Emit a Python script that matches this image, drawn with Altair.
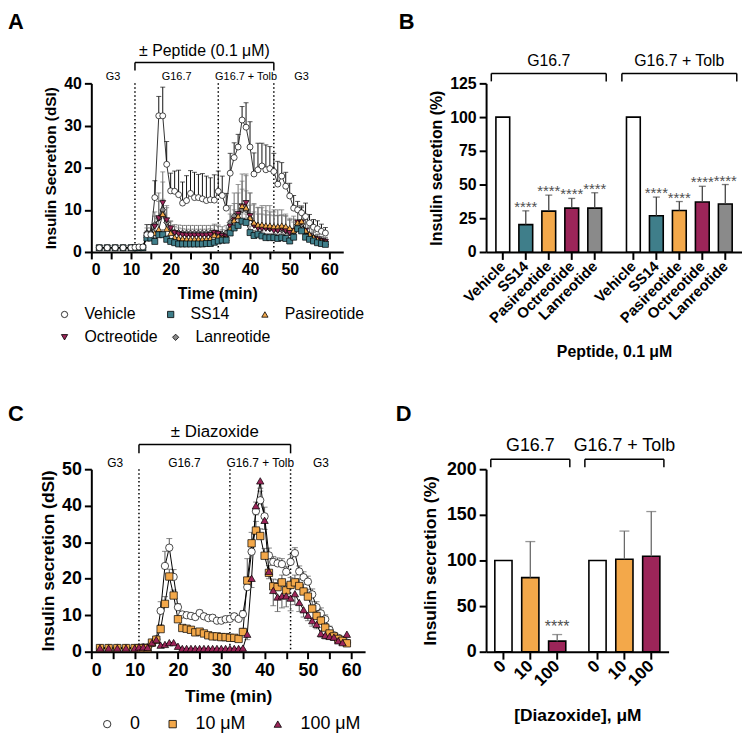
import altair as alt
import pandas as pd

FONT = "Liberation Sans"
WHITE, TEAL, ORANGE, MAGENTA, GREY = "#ffffff", "#3f7e8a", "#f3a84a", "#9c2559", "#8a8a8a"

# ---------------- shared time grid and protocol ----------------
times = [2, 4, 6, 8, 10, 11, 12, 13, 14, 15, 16, 17, 18, 19, 20, 21, 22, 23, 24, 25, 26,
         27, 28, 29, 30, 31, 32, 33, 34, 35, 36, 37, 38, 39, 40, 41, 42, 43, 44, 45, 46,
         47, 48, 49, 50, 51, 52, 53, 54, 55, 56, 57, 58, 59]
x_ticks = [0, 5, 10, 15, 20, 25, 30, 35, 40, 45, 50, 55, 60]
phase_names = ["G3", "G16.7", "G16.7 + Tolb", "G3"]
phase_start = [0, 11, 32, 46]
phase_end = [11, 32, 46, 60]
boundaries = [11, 32, 46]
treatment = [11, 46]

# ---------------- Panel A : peptides time course ----------------
a_series = ["Vehicle", "SS14", "Pasireotide", "Octreotide", "Lanreotide"]
a_vehicle = [1.0, 1.0, 1.0, 1.0, 1.0, 1.1, 1.2, 1.2,
             4.1, 4.1, 12.9, 32.3, 32.3, 20.8, 14.5, 14.4, 13.6, 11.6, 12.2, 13.9, 12.9, 12.9, 12.6, 12.2, 12.4, 12.3, 14.4, 13.4, 10.4,
             18.7, 22.4, 24.9, 31.3, 29.6, 24.9, 18.5, 19.5, 20.4, 19.5, 19.8, 19.1, 16.1, 18.0, 15.6, 13.3, 10.4, 10.0, 9.3, 8.4, 6.9, 5.9, 5.5, 4.9, 4.5]
a_vehicle_sd = [0.3, 0.3, 0.3, 0.3, 0.3, 0.3, 0.3, 0.3,
                2.4, 2.4, 4.0, 4.6, 6.8, 5.4, 4.2, 4.8, 5.8, 5.0, 5.9, 5.4, 6.0, 5.5, 6.0, 5.8, 5.2, 6.0, 4.8, 4.6, 3.5,
                4.7, 3.5, 3.0, 3.2, 5.8, 6.0, 5.0, 6.3, 5.4, 5.9, 5.2, 4.3, 5.4, 3.2, 3.3, 3.0, 3.0, 2.0, 1.4, 3.2, 2.0, 1.8, 1.9, 1.7, 1.3]
a_ss14 = [1.0, 1.0, 1.0, 1.0, 1.0, 1.0, 1.0, 1.0,
          3.3, 3.3, 2.5, 4.1, 4.1, 3.0, 2.5, 2.2, 1.9, 1.9, 1.9, 1.9, 1.9, 1.9, 1.9, 2.0, 2.0, 2.3, 2.6, 2.8, 2.8,
          4.5, 5.7, 6.3, 7.3, 7.0, 4.6, 3.9, 4.2, 3.8, 3.4, 3.4, 3.4, 3.2, 3.4, 3.2, 2.6, 3.5, 5.5, 5.0, 3.5, 3.0, 2.6, 2.2, 2.0, 1.8]
a_ss14_sd = [0.2, 0.2, 0.2, 0.2, 0.2, 0.2, 0.2, 0.2,
             0.6, 0.6, 0.8, 1.0, 1.2, 0.8, 0.6, 0.5, 0.5, 0.5, 0.5, 0.5, 0.5, 0.5, 0.5, 0.5, 0.5, 0.6, 0.7, 0.8, 0.8,
             1.2, 1.5, 1.8, 2.0, 2.0, 1.5, 1.2, 1.2, 1.2, 1.0, 1.0, 1.0, 1.0, 1.0, 1.0, 0.8, 1.0, 1.5, 1.3, 1.0, 0.8, 0.7, 0.6, 0.5, 0.5]
a_pasi = [1.0, 1.0, 1.0, 1.0, 1.0, 1.0, 1.0, 1.0,
          4.0, 4.0, 4.5, 5.4, 9.0, 5.5, 4.5, 3.5, 3.3, 3.2, 3.1, 3.1, 3.1, 3.1, 3.1, 3.1, 3.2, 4.0, 3.7, 3.4, 3.3,
          5.5, 7.5, 8.5, 10.9, 10.5, 8.1, 7.0, 6.5, 6.5, 6.3, 6.3, 6.1, 6.1, 6.3, 6.1, 5.7, 5.1, 7.0, 7.3, 5.1, 4.2, 3.5, 3.0, 2.6, 2.3]
a_pasi_sd = [0.2, 0.2, 0.2, 0.2, 0.2, 0.2, 0.2, 0.2,
             0.8, 0.8, 1.5, 2.5, 3.5, 2.0, 1.2, 1.0, 1.0, 1.0, 1.0, 1.0, 1.0, 1.0, 1.0, 1.0, 1.0, 1.2, 1.2, 1.0, 1.0,
             2.0, 2.5, 3.0, 4.0, 4.0, 3.0, 2.5, 2.5, 2.5, 2.5, 2.5, 2.5, 2.5, 2.5, 2.5, 2.0, 2.0, 2.5, 2.5, 2.0, 1.5, 1.2, 1.0, 0.8, 0.8]
a_octreo = [1.0, 1.0, 1.0, 1.0, 1.0, 1.0, 1.0, 1.0,
            4.0, 4.0, 6.0, 8.0, 11.6, 7.5, 5.6, 4.5, 4.2, 4.0, 3.9, 3.9, 3.9, 3.9, 3.9, 3.9, 4.0, 4.5, 4.3, 3.8, 3.6,
            6.0, 7.5, 9.0, 10.8, 11.6, 8.5, 6.2, 5.6, 5.5, 5.5, 5.5, 5.0, 5.0, 5.5, 5.0, 4.5, 5.0, 7.0, 7.0, 5.0, 3.8, 3.2, 3.0, 2.6, 2.4]
a_octreo_sd = [0.2, 0.2, 0.2, 0.2, 0.2, 0.2, 0.2, 0.2,
               1.0, 1.0, 2.5, 4.0, 5.0, 3.0, 1.8, 1.5, 1.5, 1.5, 1.5, 1.5, 1.5, 1.5, 1.5, 1.5, 1.5, 1.8, 1.8, 1.5, 1.5,
               3.0, 4.0, 5.0, 6.0, 6.5, 5.5, 5.0, 5.0, 5.5, 5.5, 5.5, 5.0, 5.0, 4.5, 4.0, 3.5, 3.5, 4.0, 4.0, 3.0, 2.0, 1.5, 1.2, 1.0, 1.0]
a_lanreo = [1.0, 1.0, 1.0, 1.0, 1.0, 1.0, 1.0, 1.0,
            4.5, 4.5, 6.5, 8.0, 10.0, 7.0, 5.2, 4.7, 4.6, 4.5, 4.5, 4.5, 4.5, 4.5, 4.5, 4.5, 4.5, 4.6, 4.4, 4.2, 4.5,
            7.0, 8.5, 9.0, 10.0, 10.0, 8.0, 6.5, 6.0, 6.0, 5.8, 5.5, 5.5, 5.2, 5.2, 5.0, 4.5, 4.8, 6.5, 6.5, 4.8, 4.0, 3.5, 3.0, 2.7, 2.5]
a_lanreo_sd = [0.2, 0.2, 0.2, 0.2, 0.2, 0.2, 0.2, 0.2,
               1.2, 1.2, 3.0, 6.0, 9.0, 4.0, 2.0, 1.8, 1.8, 1.8, 1.8, 1.8, 1.8, 1.8, 1.8, 1.8, 1.8, 2.0, 2.0, 1.8, 1.8,
               4.0, 5.5, 7.0, 8.5, 8.5, 6.0, 5.0, 4.5, 4.5, 4.0, 4.0, 4.0, 3.5, 3.5, 3.5, 3.0, 3.0, 4.0, 4.0, 3.0, 2.0, 1.5, 1.2, 1.0, 1.0]

# ---------------- Panel B : peptides, % secretion ----------------
b_groups = ["G16.7", "G16.7 + Tolb"]
b_peptides = ["Vehicle", "SS14", "Pasireotide", "Octreotide", "Lanreotide"]
b_g167 = [100, 20.3, 30.3, 32.5, 32.5]
b_g167_sd = [0, 10.2, 11.9, 7.2, 11.4]
b_g167_sig = ["", "****", "****", "****", "****"]
b_tolb = [100, 26.8, 30.8, 37.0, 35.6]
b_tolb_sd = [0, 13.9, 6.6, 11.7, 14.4]
b_tolb_sig = ["", "****", "****", "****", "****"]

# ---------------- Panel C : diazoxide time course ----------------
c_series = ["0", "10 μM", "100 μM"]
c_0 = [1.0, 1.0, 1.0, 1.0, 1.0, 1.1, 1.2, 1.2,
       2.3, 3.4, 11.2, 23.5, 28.5, 20.5, 12.2, 10.2, 10.0, 9.8, 9.5, 10.6, 9.7, 9.2, 9.3, 8.5, 8.5, 8.9, 9.0, 9.7, 9.0,
       10.3, 17.7, 27.4, 38.5, 41.5, 37.1, 26.4, 24.6, 24.2, 24.0, 21.9, 24.6, 27.0, 22.0, 20.4, 19.2, 15.7, 12.2, 10.5, 8.9, 6.0, 4.5, 3.8, 3.2, 2.5]
c_0_sd = [0.3, 0.3, 0.3, 0.3, 0.3, 0.3, 0.3, 0.3,
          0.5, 0.8, 2.5, 4.0, 2.5, 2.0, 1.0, 0.8, 0.8, 0.8, 0.8, 0.8, 0.8, 0.8, 0.8, 0.8, 0.8, 0.8, 0.8, 0.8, 0.8,
          1.0, 2.5, 3.0, 2.5, 2.5, 2.5, 2.0, 1.5, 1.5, 1.5, 1.5, 2.0, 1.5, 1.5, 1.5, 1.5, 1.5, 1.5, 1.5, 1.2, 1.0, 0.8, 0.6, 0.5, 0.5]
c_10 = [1.0, 1.0, 1.0, 1.0, 1.0, 1.0, 1.0, 1.0,
        2.5, 3.3, 6.2, 13.1, 20.6, 15.4, 8.9, 6.5, 6.3, 6.0, 5.3, 5.5, 5.0, 4.5, 4.2, 4.2, 4.0, 4.0, 3.8, 3.8, 3.5,
        5.4, 19.5, 29.7, 33.2, 31.7, 26.3, 21.6, 17.9, 17.7, 19.0, 16.8, 18.3, 19.0, 18.0, 16.5, 15.1, 11.8, 9.8, 8.5, 6.6, 5.0, 4.2, 3.5, 3.0, 2.3]
c_10_sd = [0.2, 0.2, 0.2, 0.2, 0.2, 0.2, 0.2, 0.2,
           0.4, 0.5, 1.2, 2.0, 2.0, 1.5, 0.8, 0.5, 0.5, 0.5, 0.5, 0.5, 0.5, 0.5, 0.5, 0.5, 0.5, 0.5, 0.5, 0.5, 0.5,
           1.0, 6.0, 3.0, 2.5, 2.0, 2.0, 2.0, 2.0, 2.0, 2.0, 2.0, 2.0, 2.0, 2.0, 2.0, 2.0, 2.0, 1.5, 1.2, 1.0, 0.8, 0.6, 0.5, 0.5, 0.5]
c_100 = [1.0, 1.0, 1.0, 1.0, 1.0, 1.3, 1.3, 1.2,
         2.5, 3.3, 1.8, 2.0, 2.5, 2.5, 1.5, 0.9, 0.9, 0.9, 0.9, 0.9, 0.9, 0.9, 0.9, 0.9, 0.9, 0.9, 0.9, 0.9, 0.9,
         1.0, 4.8, 20.1, 40.0, 46.8, 36.0, 22.0, 16.8, 15.0, 15.3, 15.3, 14.7, 15.9, 13.5, 11.5, 10.0, 8.5, 7.5, 5.0, 4.5, 4.2, 4.0, 3.0, 2.5, 4.8]
c_100_sd = [0.2, 0.2, 0.2, 0.2, 0.2, 0.2, 0.2, 0.2,
            0.5, 0.6, 0.5, 0.5, 0.6, 0.6, 0.4, 0.2, 0.2, 0.2, 0.2, 0.2, 0.2, 0.2, 0.2, 0.2, 0.2, 0.2, 0.2, 0.2, 0.2,
            0.3, 1.5, 2.5, 2.5, 2.0, 2.5, 2.0, 4.2, 4.0, 3.3, 3.0, 3.5, 3.0, 2.5, 2.0, 1.5, 1.5, 1.2, 1.0, 1.0, 0.8, 0.8, 0.6, 0.5, 0.5]
c_err_dir = {"0": 1, "10 μM": 1, "100 μM": -1}

# ---------------- Panel D : diazoxide, % secretion ----------------
d_groups = ["G16.7", "G16.7 + Tolb"]
d_doses = ["0", "10", "100"]
d_g167 = [100, 81.2, 11.6]
d_g167_sd = [0, 39.5, 7.2]
d_g167_sig = ["", "", "****"]
d_tolb = [100, 101.4, 104.7]
d_tolb_sd = [0, 30.8, 48.9]
d_tolb_sig = ["", "", ""]


# ================= helpers =================
def long_df(names, vals, sds, errdir=None):
    rows = []
    for name, v, s in zip(names, vals, sds):
        d = 1 if errdir is None else errdir[name]
        for t, vv, ss in zip(times, v, s):
            rows.append({"t": t, "series": name, "value": vv, "sd": ss, "err": vv + d * ss})
    return pd.DataFrame(rows)


def bar_df(groups, cats, cat_field, per_group):
    rows = []
    for g, (vals, sds, sigs) in zip(groups, per_group):
        for c, v, s, st in zip(cats, vals, sds, sigs):
            rows.append({"group": g, cat_field: c, "value": v, "sd": s, "err": v + s, "sig": st})
    return pd.DataFrame(rows)


def ax(**kw):
    base = dict(domainColor="black", domainWidth=2, tickColor="black", tickWidth=2, tickSize=7,
                labelColor="black", titleColor="black", labelFont=FONT, titleFont=FONT,
                labelFontWeight="bold", titleFontWeight="bold", grid=False, labelPadding=3)
    base.update(kw)
    return alt.Axis(**base)


def letter(ch, dx, dy):
    return alt.Chart(pd.DataFrame({"letter": [ch]})).mark_text(
        fontSize=22, fontWeight="bold", align="left", baseline="top", color="black", font=FONT
    ).encode(text="letter:N", x=alt.value(dx), y=alt.value(dy))


def mk_leg(x, y, cols, colpad, size, lab_off, sym):
    return alt.Legend(title=None, orient="none", legendX=x, legendY=y, direction="horizontal", columns=cols,
                      columnPadding=colpad, labelOffset=lab_off, labelFont=FONT, labelFontSize=size,
                      labelColor="black", symbolSize=sym, symbolStrokeColor="black", symbolStrokeWidth=0.8,
                      padding=0)


phases_df = pd.DataFrame({"name": phase_names, "start": phase_start, "end": phase_end})


def timecourse_decor(X, H, bracket_y, tick_len, bracket_label, label_size, phase_size, label_dy):
    dotted = alt.Chart(pd.DataFrame({"t": boundaries})).mark_rule(
        strokeDash=[1.5, 2.5], strokeWidth=1.5, color="black"
    ).encode(x=X("t"), y=alt.value(0), y2=alt.value(H))
    br_h = alt.Chart(pd.DataFrame({"start": [treatment[0]], "end": [treatment[1]]})).mark_rule(
        strokeWidth=1.5, color="black"
    ).encode(x=X("start"), x2="end:Q", y=alt.value(bracket_y))
    br_v = alt.Chart(pd.DataFrame({"t": treatment})).mark_rule(strokeWidth=1.5, color="black").encode(
        x=X("t"), y=alt.value(bracket_y), y2=alt.value(bracket_y + tick_len))
    br_t = alt.Chart(pd.DataFrame({"start": [treatment[0]], "end": [treatment[1]], "label": [bracket_label]})
                     ).transform_calculate(mid="(datum.start + datum.end) / 2").mark_text(
        fontSize=label_size, baseline="middle", color="black", font=FONT
    ).encode(x=X("mid"), y=alt.value(bracket_y + label_dy), text="label:N")
    ph = alt.Chart(phases_df).transform_calculate(mid="(datum.start + datum.end) / 2").mark_text(
        fontSize=phase_size, baseline="middle", color="black", font=FONT
    ).encode(x=X("mid"), y=alt.value(-6), text="name:N")
    return [dotted, br_h, br_v, br_t, ph]


def points_layer(df, names, X, Y, shapes, fills, leg, size):
    return alt.Chart(df).mark_point(filled=True, size=size, strokeWidth=0.7, opacity=1).encode(
        x=X(), y=Y(),
        shape=alt.Shape("series:N", scale=alt.Scale(domain=names, range=shapes), legend=leg),
        fill=alt.Fill("series:N", scale=alt.Scale(domain=names, range=fills), legend=leg),
        stroke=alt.Stroke("series:N", scale=alt.Scale(domain=names, range=["black"] * len(names)), legend=leg),
    )


# ================= Panel A =================
WA, HA = 254, 170
dfA = long_df(["Lanreotide", "Octreotide", "Pasireotide", "SS14", "Vehicle"],
              [a_lanreo, a_octreo, a_pasi, a_ss14, a_vehicle],
              [a_lanreo_sd, a_octreo_sd, a_pasi_sd, a_ss14_sd, a_vehicle_sd])
scale_xA = alt.Scale(domain=[0, 63.5], nice=False)
scale_yA = alt.Scale(domain=[0, 40], nice=False)
axis_xA = ax(values=x_ticks, labelExpr="datum.value % 10 == 0 ? datum.label : ''", labelFontSize=16,
             title="Time (min)", titleFontSize=16, titlePadding=8)
axis_yA = ax(values=[0, 10, 20, 30, 40], labelFontSize=16, title="Insulin Secretion (dSI)",
             titleFontSize=15.5, titlePadding=5)


def XA(f="t"):
    return alt.X(f"{f}:Q", scale=scale_xA, axis=axis_xA)


def YA(f="value"):
    return alt.Y(f"{f}:Q", scale=scale_yA, axis=axis_yA)


errcol = alt.condition(alt.datum.series == "Vehicle", alt.value("#111111"), alt.value("#707070"))
a_err = alt.Chart(dfA).mark_rule(strokeWidth=1).encode(x=XA(), y=YA(), y2="err:Q", color=errcol)
a_cap = alt.Chart(dfA).mark_tick(orient="horizontal", size=5, thickness=1).encode(x=XA(), y=YA("err"), color=errcol)
a_line = alt.Chart(dfA).mark_line(color="black", strokeWidth=0.8).encode(x=XA(), y=YA(), detail="series:N")

a_row1 = ["Vehicle", "SS14", "Pasireotide"]
a_row2 = ["Octreotide", "Lanreotide"]
shape_map = {"Vehicle": "circle", "SS14": "square", "Pasireotide": "triangle-up",
             "Octreotide": "triangle-down", "Lanreotide": "diamond"}
fill_map = {"Vehicle": WHITE, "SS14": TEAL, "Pasireotide": ORANGE, "Octreotide": MAGENTA, "Lanreotide": GREY}

a_pts_low = points_layer(dfA[dfA["series"].isin(a_row2)], a_row2, XA, YA,
                         [shape_map[n] for n in a_row2], [fill_map[n] for n in a_row2],
                         mk_leg(-35, 248, 2, 10, 16, 12, 40), 36)
a_pts_top = points_layer(dfA[dfA["series"].isin(a_row1)], a_row1, XA, YA,
                         [shape_map[n] for n in a_row1], [fill_map[n] for n in a_row1],
                         mk_leg(-35, 225, 3, 27, 16, 12, 40), 36)

panelA = alt.layer(
    *timecourse_decor(XA, HA, -21, 8, "± Peptide (0.1 μM)", 16, 11, -12),
    a_err, a_cap, a_line, a_pts_low, a_pts_top, letter("A", -84, -72)
).resolve_scale(shape="independent", fill="independent", stroke="independent").resolve_legend(
    shape="independent", fill="independent", stroke="independent").properties(width=WA, height=HA)


# ================= bar panels (B and D) =================
def bar_panel(df, cats, cat_field, colors, W, H, ydom, yvals, ytitle, xtitle, fs_tick, fs_title,
              title_pad_x, pin, pout, opin, opout, err_color, cap, star_size, star_dy, lab_size,
              grp_size, letter_ch, letter_dx, letter_dy, ytitle_pad):
    scale_x = alt.Scale(domain=b_groups, paddingInner=pin, paddingOuter=pout)
    axis_x = ax(labels=False, ticks=False, title=xtitle, titleFontSize=fs_title, titlePadding=title_pad_x)

    def X(bp=None):
        kw = dict(scale=scale_x, axis=axis_x)
        if bp is not None:
            kw["bandPosition"] = bp
        return alt.X("group:N", **kw)

    xo = alt.XOffset(f"{cat_field}:N", scale=alt.Scale(domain=cats, paddingInner=opin, paddingOuter=opout))
    scale_y = alt.Scale(domain=ydom, nice=False)
    axis_y = ax(values=yvals, labelFontSize=fs_tick, title=ytitle, titleFontSize=fs_title, titlePadding=ytitle_pad)

    def Y(f="value"):
        return alt.Y(f"{f}:Q", scale=scale_y, axis=axis_y)

    base = alt.Chart(df)
    bars = base.mark_bar(stroke="black", strokeWidth=1.6).encode(
        x=X(), xOffset=xo, y=Y(),
        fill=alt.Fill(f"{cat_field}:N", scale=alt.Scale(domain=cats, range=colors), legend=None))
    errd = base.transform_filter("datum.sd > 0")
    err = errd.mark_rule(color=err_color, strokeWidth=1.3).encode(x=X(), xOffset=xo, y=Y(), y2="err:Q")
    caps = errd.mark_tick(orient="horizontal", color=err_color, thickness=1.3, size=cap).encode(
        x=X(), xOffset=xo, y=Y("err"))
    stars = errd.mark_text(fontSize=star_size, color="#505050", baseline="alphabetic", dy=star_dy, font=FONT).encode(
        x=X(), xOffset=xo, y=Y("err"), text="sig:N")
    ticks = base.mark_rule(color="black", strokeWidth=2).encode(
        x=X(), xOffset=xo, y=alt.value(H), y2=alt.value(H + 8))
    labels = base.mark_text(angle=315, align="right", baseline="middle", fontSize=lab_size, fontWeight="bold",
                            color="black", font=FONT).encode(
        x=X(), xOffset=xo, y=alt.value(H + 12), text=f"{cat_field}:N")
    gdf = alt.Chart(pd.DataFrame({"group": b_groups}))
    br_h = gdf.mark_rule(color="black", strokeWidth=1.5).encode(
        x=X(0), x2=alt.X2("group:N", bandPosition=1), y=alt.value(-10))
    br_l = gdf.mark_rule(color="black", strokeWidth=1.5).encode(x=X(0), y=alt.value(-10), y2=alt.value(-2))
    br_r = gdf.mark_rule(color="black", strokeWidth=1.5).encode(x=X(1), y=alt.value(-10), y2=alt.value(-2))
    gl = gdf.mark_text(fontSize=grp_size, baseline="middle", color="black", font=FONT).encode(
        x=X(), y=alt.value(-23), text="group:N")
    return alt.layer(bars, err, caps, stars, ticks, labels, br_h, br_l, br_r, gl,
                     letter(letter_ch, letter_dx, letter_dy)).properties(width=W, height=H)


dfB = bar_df(b_groups, b_peptides, "peptide",
             [(b_g167, b_g167_sd, b_g167_sig), (b_tolb, b_tolb_sd, b_tolb_sig)])
panelB = bar_panel(dfB, b_peptides, "peptide", [WHITE, TEAL, ORANGE, MAGENTA, GREY], 258, 170,
                   [0, 125], [0, 25, 50, 75, 100, 125], "Insulin secretion (%)", "Peptide, 0.1 μM",
                   16, 16, 92, 0.12, 0.04, 0.4, 0.2, "#444444", 7, 15, 1, 15, 16, "B", -88, -72, 5)

dfD = bar_df(d_groups, d_doses, "dose",
             [(d_g167, d_g167_sd, d_g167_sig), (d_tolb, d_tolb_sd, d_tolb_sig)])
panelD = bar_panel(dfD, d_doses, "dose", [WHITE, ORANGE, MAGENTA], 184, 184,
                   [0, 200], [0, 50, 100, 150, 200], "Insulin secretion (%)", "[Diazoxide], μM",
                   18, 17.5, 55, 0.16, 0.05, 0.36, 0.15, "#6a6a6a", 10, 16, -3, 17, 18, "D", -91, -66, 7)

# ================= Panel C =================
WC, HC = 276, 184
dfC = long_df(c_series, [c_0, c_10, c_100], [c_0_sd, c_10_sd, c_100_sd], c_err_dir)
scale_xC = alt.Scale(domain=[0, 63.2], nice=False)
scale_yC = alt.Scale(domain=[0, 50], nice=False)
axis_xC = ax(values=x_ticks, labelExpr="datum.value % 10 == 0 ? datum.label : ''", labelFontSize=18,
             title="Time (min)", titleFontSize=17.5, titlePadding=8)
axis_yC = ax(values=[0, 10, 20, 30, 40, 50], labelFontSize=18, title="Insulin secretion (dSI)",
             titleFontSize=17.5, titlePadding=4)


def XC(f="t"):
    return alt.X(f"{f}:Q", scale=scale_xC, axis=axis_xC)


def YC(f="value"):
    return alt.Y(f"{f}:Q", scale=scale_yC, axis=axis_yC)


c_err = alt.Chart(dfC).mark_rule(strokeWidth=1, color="#555555").encode(x=XC(), y=YC(), y2="err:Q")
c_cap = alt.Chart(dfC).mark_tick(orient="horizontal", size=6, thickness=1, color="#555555").encode(
    x=XC(), y=YC("err"))
c_line = alt.Chart(dfC).mark_line(color="black", strokeWidth=1).encode(x=XC(), y=YC(), detail="series:N")
c_pts = points_layer(dfC, c_series, XC, YC, ["circle", "square", "triangle-up"], [WHITE, ORANGE, MAGENTA],
                     mk_leg(7, 248, 3, 23, 18, 14, 55), 55)
panelC = alt.layer(
    *timecourse_decor(XC, HC, -25, 9, "± Diazoxide", 17, 12, -12),
    c_err, c_cap, c_line, c_pts, letter("C", -84, -66)
).properties(width=WC, height=HC)

chart = alt.concat(
    panelA, panelB, panelC, panelD, columns=2, spacing={"row": 219, "column": 122},
    bounds="flush", align="each"
).resolve_scale(
    x="independent", y="independent", shape="independent", fill="independent", stroke="independent",
    xOffset="independent"
).resolve_legend(shape="independent", fill="independent", stroke="independent").properties(
    padding={"left": 0, "top": 0, "right": 0, "bottom": 0}, background="white"
).configure_view(stroke=None).configure_text(font=FONT)

chart.save("out.html", embed_options={"renderer": "svg", "actions": False})
